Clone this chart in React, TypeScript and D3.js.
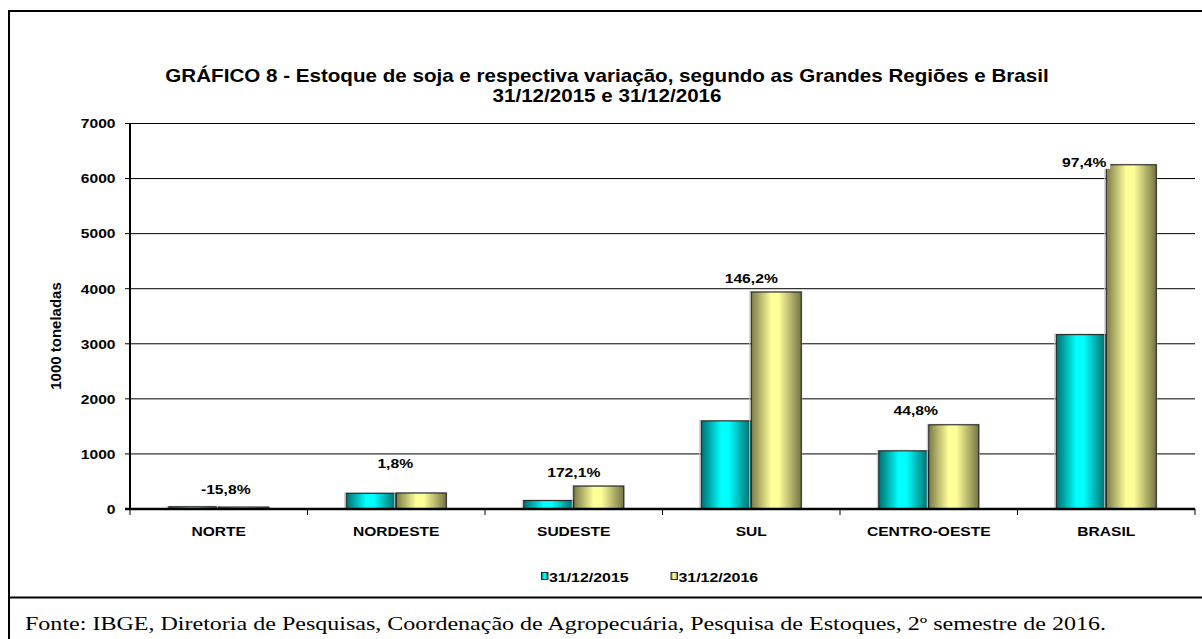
import React from "react";
import * as d3 from "d3";

const categories = ["NORTE", "NORDESTE", "SUDESTE", "SUL", "CENTRO-OESTE", "BRASIL"];
const seriesNames = ["31/12/2015", "31/12/2016"];
const values2015 = [40, 285, 153, 1600, 1056, 3166];
const values2016 = [34, 290, 416, 3940, 1529, 6250];
const variationLabels = ["-15,8%", "1,8%", "172,1%", "146,2%", "44,8%", "97,4%"];
const yTicks = [0, 1000, 2000, 3000, 4000, 5000, 6000, 7000];
const titleLines = [
  "GRÁFICO 8 - Estoque de soja e respectiva variação, segundo as Grandes Regiões e Brasil",
  "31/12/2015 e 31/12/2016",
];
const yAxisTitle = "1000 toneladas";
const footer =
  "Fonte: IBGE, Diretoria de Pesquisas, Coordenação de Agropecuária, Pesquisa de Estoques, 2º semestre de 2016.";

// layout (label offsets relative to category centre / top of 2016 bar)
const labelOffsets: [number, number][] = [
  [7, 18], [-1, 30], [0, 14], [0, 14], [-13, 15], [-22, 3],
];

const SX = 1.18;
const FONT = "'Liberation Sans', Arial, sans-serif";

function T({ x, y, children, size = 13, anchor = "middle", weight = "bold", rotate = 0, family = FONT, sx = SX }: any) {
  const tr = rotate ? `translate(${x},${y}) rotate(${rotate})` : `translate(${x},${y}) scale(${sx},1)`;
  return (
    <text transform={tr} textAnchor={anchor} fontFamily={family} fontWeight={weight} fontSize={size} fill="#000">
      {children}
    </text>
  );
}

export default function App() {
  const W = 1202, H = 639;
  const left = 130, right = 1195, top = 123.5, bottom = 509;
  const x = d3.scaleBand<string>().domain(categories).range([left, right]).padding(0);
  const xs = d3.scaleBand<string>().domain(seriesNames).range([0, x.bandwidth()]).paddingInner(0).paddingOuter(0.775);
  const y = d3.scaleLinear().domain([0, 7000]).range([bottom, top]);
  const series = [values2015, values2016];
  const fills = ["url(#gCyan)", "url(#gYellow)"];

  return (
    <svg width={W} height={H} style={{ position: "absolute", left: 0, top: 0, background: "#fff" }}>
      <defs>
        <linearGradient id="gCyan" x1="0" x2="1" y1="0" y2="0">
          <stop offset="0" stopColor="#006f6f" />
          <stop offset="0.4" stopColor="#00ffff" />
          <stop offset="0.55" stopColor="#00ffff" />
          <stop offset="1" stopColor="#006868" />
        </linearGradient>
        <linearGradient id="gYellow" x1="0" x2="1" y1="0" y2="0">
          <stop offset="0" stopColor="#7a7a48" />
          <stop offset="0.4" stopColor="#ffff99" />
          <stop offset="0.55" stopColor="#ffff99" />
          <stop offset="1" stopColor="#747444" />
        </linearGradient>
      </defs>
      <rect x={0} y={0} width={W} height={H} fill="#fff" />
      {/* outer frame */}
      <path d={`M9,${H + 5} V11 H${W + 5}`} fill="none" stroke="#000" strokeWidth={2} />
      <line x1={9} x2={W} y1={597.5} y2={597.5} stroke="#000" strokeWidth={2} />

      {/* title */}
      {titleLines.map((t, i) => (
        <T key={i} x={607} y={81.5 + i * 20} size={18} sx={1.145}>{t}</T>
      ))}

      {/* gridlines + y ticks */}
      {yTicks.map((t) => (
        <g key={t}>
          {t > 0 && <line x1={left} x2={right} y1={y(t)} y2={y(t)} stroke="#000" strokeWidth={1} />}
          <line x1={left - 5} x2={left} y1={y(t)} y2={y(t)} stroke="#000" strokeWidth={1} />
          <T x={115.5} y={y(t) + 4.8} size={13.2} anchor="end">{String(t)}</T>
        </g>
      ))}

      {/* bars */}
      {categories.map((c, i) => (
        <g key={c}>
          {series.map((vals, s) => {
            const bx = (x(c) as number) + (xs(seriesNames[s]) as number);
            return (
              <g key={s}>
                <rect x={bx - 1.5} y={y(vals[i]) - 0.5} width={xs.bandwidth() + 2} height={bottom - y(vals[i]) + 0.5} fill="none" stroke="#c8c8c8" strokeWidth={1} />
                <rect x={bx} y={y(vals[i])} width={xs.bandwidth()} height={bottom - y(vals[i])} fill={fills[s]} stroke="#1a1a1a" strokeWidth={1} />
              </g>
            );
          })}
        </g>
      ))}

      {/* axes */}
      <line x1={left} x2={left} y1={top} y2={bottom} stroke="#000" strokeWidth={2} />
      <line x1={left - 5} x2={right} y1={bottom} y2={bottom} stroke="#000" strokeWidth={2.5} />
      {categories.concat([""]).map((c, i) => {
        const tx = left + i * x.bandwidth();
        return <line key={i} x1={tx} x2={tx} y1={bottom} y2={bottom + 6} stroke="#000" strokeWidth={1} />;
      })}
      {categories.map((c) => (
        <T key={c} x={(x(c) as number) + x.bandwidth() / 2} y={535.5} size={13.2}>{c}</T>
      ))}

      {/* variation labels */}
      {variationLabels.map((l, i) => {
        const cx = (x(categories[i]) as number) + x.bandwidth() / 2 + labelOffsets[i][0];
        const cy = y(values2016[i]) - labelOffsets[i][1];
        return (
          <g key={l}>
            <rect x={cx - 26} y={cy - 7} width={52} height={14} fill="#fff" />
            <T x={cx} y={cy + 5} size={13.3}>{l}</T>
          </g>
        );
      })}

      {/* y-axis title */}
      <T x={61} y={336} size={15} rotate={-90}>{yAxisTitle}</T>

      {/* legend */}
      {seriesNames.map((s, i) => {
        const lx = 541.5 + i * 129.5;
        return (
          <g key={s}>
            <rect x={lx} y={572.5} width={6.5} height={7} fill={fills[i]} stroke="#000" strokeWidth={0.8} />
            <T x={lx + 7.5} y={581.7} size={13.5} anchor="start">{s}</T>
          </g>
        );
      })}

      {/* footer */}
      <text x={25} y={630} fontFamily="'Liberation Serif', 'Times New Roman', serif" fontSize={18.5} textLength={1081} lengthAdjust="spacingAndGlyphs" fill="#000">
        {footer}
      </text>
    </svg>
  );
}
